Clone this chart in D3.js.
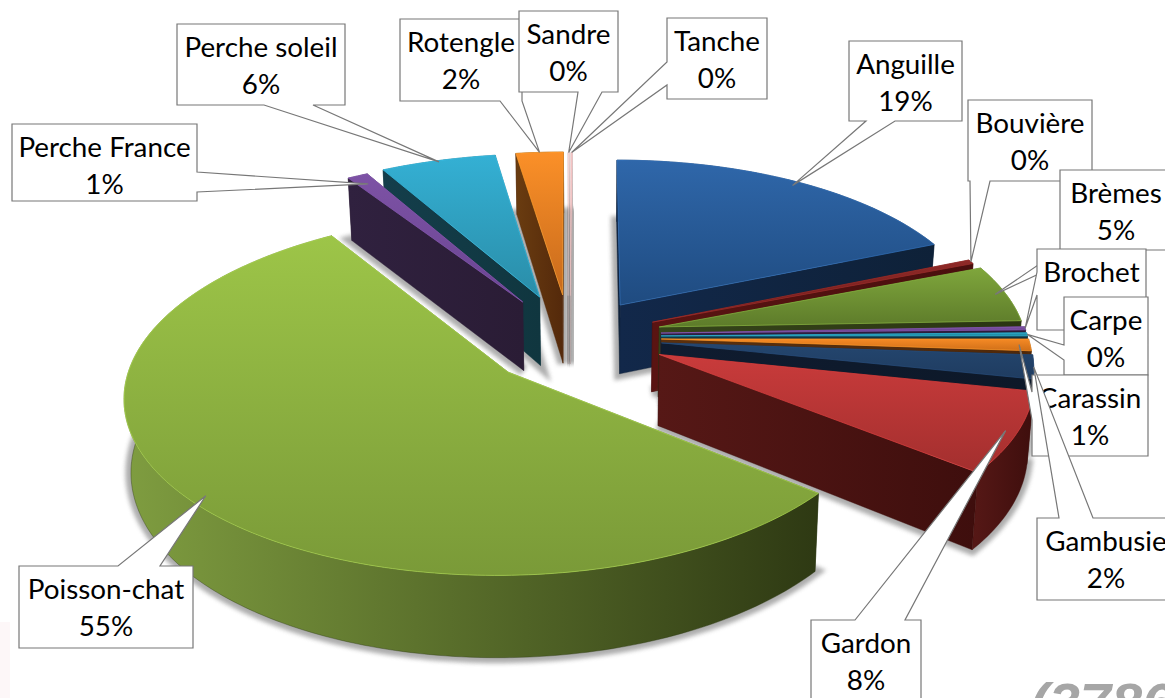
<!DOCTYPE html>
<html><head><meta charset="utf-8">
<script src="https://cdn.jsdelivr.net/npm/d3@7/dist/d3.min.js"></script>
<style>html,body{margin:0;padding:0;background:#fff;overflow:hidden}svg{display:block}</style>
</head><body><div id="chart"></div>
<script>
const species = ["Anguille","Bouvière","Brèmes","Brochet","Carpe","Carassin","Gambusie","Gardon","Poisson-chat","Perche France","Perche soleil","Rotengle","Sandre","Tanche"];
const shares  = [18.6,0.4,5.4,0.3,0.3,1.1,2.2,7.5,55.2,1.0,5.6,2.3,0.05,0.05];
const topLight = ["#2f67aa","#8f2a28","#7fa63c","#7d52a5","#2aa5c2","#f58a25","#24466f","#c93b3b","#9dc548","#7d52a5","#34b0d4","#fb9028","#e8c8c8","#e8b8b8"];
const topDark  = ["#1f4b80","#6d1a18","#5d7b2a","#5c3a80","#1c7f96","#d06f18","#1f3c60","#a32f2e","#7a9a38","#6a4592","#2a8da8","#c76a1c","#d8b0b0","#d8a0a0"];
const wallLight= ["#12284a","#5a1412","#36451a","#2f2040","#123a47","#5a300e","#0f1c30","#561816","#7f9d40","#30213f","#143e4b","#6a3c10","#c8bcbc","#c8b8b8"];
const wallDark = ["#0e2138","#4a0f0e","#2a3512","#2a1c38","#10333f","#4e280a","#0d1828","#3e0e0d","#2e3913","#2a1c35","#10363f","#54290b","#b8a8a8","#b8a8a8"];
// explosion of every slice on the plane of the pie, as fractions of the radius
const explodeX = [.084,.172,.19,.194,.194,.194,.194,.186,-.218,-.188,-.141,-.077,-.062,-.056];
const explodeY = [-.151,-.047,-.018,.018,.035,.053,.076,.143,.243,-.17,-.2,-.214,-.21,-.21];
// the left half of the pie spreads a little wider than the right one
const leftStretch = [1,1,1,1,1,1,1,1,1.01,1.036,1.036,1.036,1.036,1.036];
const paintOrder = [0,13,12,11,10,9,1,2,3,4,5,6,7,8];
// callouts: box l,t,r,b; side of box the pointer leaves, its two base points, where it lands on the slice
const boxes = [[849,41,962,121],[968,100,1092,181],[1060,170,1172,250],[1037,249,1146,330],[1064,297,1148,375],[1032,375,1148,456],[1037,518,1175,600],[811,620,921,705],[19,566,193,648],[12,124,197,201],[177,24,345,105],[400,19,522,101],[519,11,618,92],[667,18,767,99]];
const pointerSide = ["b","b","b","l","l","l","t","t","t","r","b","b","b","l"];
const pointerBase = [[866,895],[970,990],[1060,1090],[272,295],[345,360],[392,420],[1059,1093],[855,905],[118,160],[172,192],[264,313],[500,522],[578,602],[62,85]];
const pointerTipR = [.97,1,.97,1,1,.97,1,.97,.96,.93,.99,1,1,1];

const W=1165,H=698, cx=590, cy=330, Rx=365, Ry=168, k=.12, depth=70, bottomShrink=.985;
const xScale=d3.scaleLinear([-1,1],[cx-Rx,cx+Rx]), yScale=d3.scaleLinear([-1,1],[cy-Ry,cy+Ry]);
const svg=d3.select("#chart").append("svg").attr("width",W).attr("height",H);
const defs=svg.append("defs");
defs.append("filter").attr("id","soft").attr("x","-30%").attr("y","-30%").attr("width","160%").attr("height","160%")
  .append("feGaussianBlur").attr("stdDeviation",2);
svg.append("rect").attr("width",W).attr("height",H).attr("fill","#fff");
svg.append("rect").attr("x",0).attr("y",622).attr("width",10).attr("height",76).attr("fill","#fdf7f8");
svg.append("text").attr("x",1030).attr("y",722).attr("font-family","Liberation Sans").attr("font-weight",700).attr("font-style","italic").attr("font-size",56).attr("fill","#a6a6a6").text("(3786");

const arcs=d3.pie().value(d=>d).sort(null).startAngle(0).endAngle(2*Math.PI)(shares);
const scaleAt=Y=>1/(1-k*Y);
const topPt=(X,Y)=>{const s=scaleAt(Y);return [xScale(X*s),yScale(Y*s)];};
const botPt=(X,Y)=>{const s=scaleAt(Y);return [xScale(X*s*bottomShrink),yScale(Y*s)+depth*s];};
const line=d3.line();
const polar=(i,a,r)=>{const sx=Math.sin(a);return [explodeX[i]+r*sx*(sx<0?leftStretch[i]:1),explodeY[i]-r*Math.cos(a)];};
function rim(i){const a=arcs[i];const n=Math.max(2,Math.ceil((a.endAngle-a.startAngle)/.02));
  return d3.range(n+1).map(j=>polar(i,a.startAngle+(a.endAngle-a.startAngle)*j/n,1));}
const apex=i=>[explodeX[i],explodeY[i]];

const gTop=(i)=>{const id="t"+i;const g=defs.append("linearGradient").attr("id",id).attr("x1",0).attr("y1",0).attr("x2",0).attr("y2",1);
  g.append("stop").attr("offset",0).attr("stop-color",topLight[i]);g.append("stop").attr("offset",1).attr("stop-color",topDark[i]);return `url(#${id})`;};
const gWall=(i)=>{const id="w"+i;const g=defs.append("linearGradient").attr("id",id).attr("x1",0).attr("y1",0).attr("x2",1).attr("y2",0);
  g.append("stop").attr("offset",0).attr("stop-color",wallLight[i]);g.append("stop").attr("offset",1).attr("stop-color",wallDark[i]);return `url(#${id})`;};

const pies=svg.append("g");
paintOrder.forEach(i=>{
  const g=pies.append("g").attr("class","slice");
  const R=rim(i), A=apex(i);
  const face=[A,...R];
  const wallFill=gWall(i), topFill=gTop(i);
  // soft shadow of the foot of the slice
  g.append("path").attr("d",line(face.map(p=>botPt(p[0],p[1])))+"Z").attr("fill","#777").attr("stroke","#777").attr("stroke-width",11).attr("opacity",.6).attr("filter","url(#soft)");
  const wall=(pts)=>line([...pts.map(p=>topPt(p[0],p[1])),...pts.slice().reverse().map(p=>botPt(p[0],p[1]))])+"Z";
  const walls=[[A,R[0]],[A,R[R.length-1]],R];
  walls.sort((a,b)=>d3.mean(a,p=>p[1])-d3.mean(b,p=>p[1]));
  walls.forEach(w=>g.append("path").attr("d",wall(w)).attr("fill",wallFill).attr("stroke",wallDark[i]).attr("stroke-width",.4));
  g.append("path").attr("d",line(face.map(p=>topPt(p[0],p[1])))+"Z").attr("fill",topFill)
    .attr("stroke",d3.color(topLight[i]).brighter(.3)).attr("stroke-width",.7);
});

// callouts
const fmt=v=>Math.round(v/d3.sum(shares)*100)+"%";
const labels=svg.append("g");
species.forEach((name,i)=>{
  const [l,t,r,b]=boxes[i], side=pointerSide[i], [p,q]=pointerBase[i], a=arcs[i];
  const tip=topPt(...polar(i,(a.startAngle+a.endAngle)/2,pointerTipR[i]));
  const pts=[[l,t]];
  if(side==="t")pts.push([p,t],tip,[q,t]);
  pts.push([r,t]);
  if(side==="r")pts.push([r,p],tip,[r,q]);
  pts.push([r,b]);
  if(side==="b")pts.push([q,b],tip,[p,b]);
  pts.push([l,b]);
  if(side==="l")pts.push([l,q],tip,[l,p]);
  labels.append("path").attr("d",line(pts)+"Z").attr("fill","#fff").attr("stroke","#777").attr("stroke-width",1.2);
  const mx=(l+r)/2, tx=labels.append("text").attr("text-anchor","middle").attr("font-family","Lato").attr("font-size",27.8).attr("fill","#000");
  tx.append("tspan").attr("x",mx).attr("y",t+33).text(name);
  tx.append("tspan").attr("x",mx).attr("y",t+70).text(fmt(shares[i]));
});
</script></body></html>
